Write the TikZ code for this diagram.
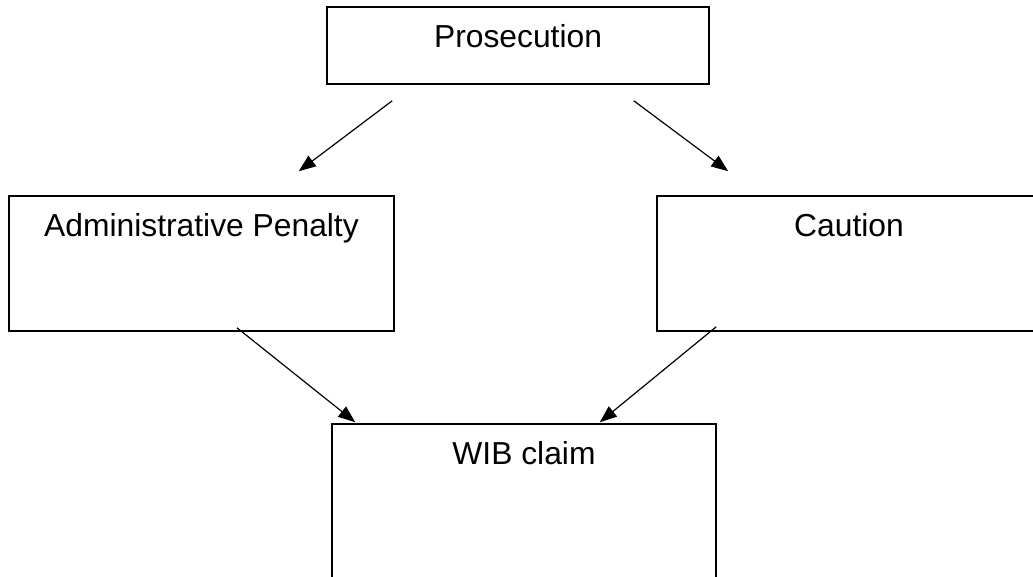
\documentclass[tikz,border=0pt]{standalone}
\usepackage{fontspec}
\setmainfont{Liberation Sans}
\usetikzlibrary{calc,arrows.meta}

\tikzset{
    box/.style={draw,line width=1.6pt,inner sep=0pt,minimum width=384pt,minimum height=135pt},
    boxtext/.style={anchor=base,yshift=-41pt,font=\fontsize{31.8}{38}\selectfont},
    arr/.style={line width=1.2pt,-{Triangle[length=17pt,width=13pt]}}
}

\begin{document}
\begin{tikzpicture}[x=1pt,y=-1pt]
    \useasboundingbox (0,0) rectangle (1033,577);
    \node[box,minimum width=382pt,minimum height=77pt,label={[boxtext]north:Prosecution}] (pros) at (518,45.5) {};
    \node[box,minimum width=385pt,label={[boxtext]north:Administrative Penalty}] (admin) at (201.5,263.5) {};
    \node[box,label={[boxtext]north:Caution}] (caution) at (849,263.5) {};
    \node[box,minimum height=200pt,label={[boxtext]north:WIB claim}] (wib) at (524,524) {};
    \draw[arr] ($(pros.south west)+(66,16)$) -- ($(admin.north east)+(-96,-24)$);
    \draw[arr] ($(pros.south east)+(-76,16)$) -- ($(caution.north west)+(72,-24)$);
    \draw[arr] ($(admin.south)+(35.5,-4)$) -- ($(wib.north west)+(24,-1)$);
    \draw[arr] ($(caution.south west)+(60,-5)$) -- ($(wib.north east)+(-117,-1)$);
\end{tikzpicture}
\end{document}
